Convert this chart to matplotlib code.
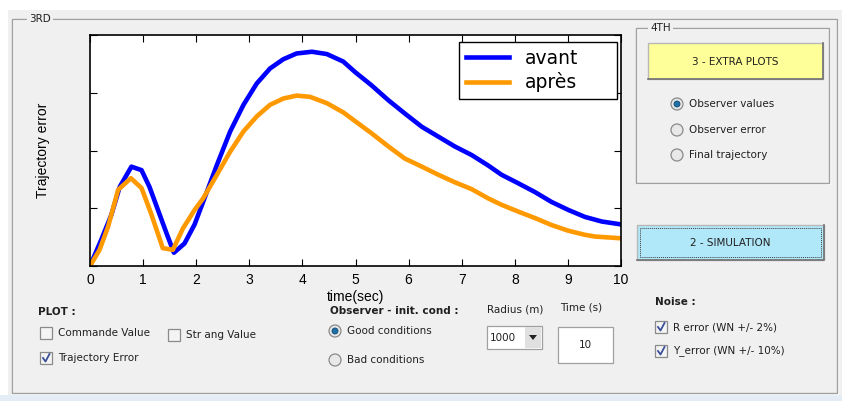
import matplotlib
matplotlib.use('Agg')
import matplotlib.pyplot as plt
from matplotlib.patches import Rectangle, Circle, Polygon

# values
t_avant = [0, 0.21, 0.40, 0.56, 0.78, 0.97, 1.12, 1.28, 1.44, 1.58, 1.78, 1.97, 2.13,
           2.39, 2.64, 2.89, 3.14, 3.39, 3.64, 3.89, 4.18, 4.46, 4.77, 4.99, 5.30, 5.62,
           5.93, 6.25, 6.56, 6.87, 7.19, 7.50, 7.75, 8.07, 8.38, 8.69, 9.01, 9.32, 9.64, 10]
avant = [0, 0.45, 0.88, 1.37, 1.72, 1.66, 1.37, 0.97, 0.57, 0.23, 0.39, 0.72, 1.11,
         1.75, 2.33, 2.79, 3.16, 3.42, 3.58, 3.68, 3.71, 3.67, 3.54, 3.36, 3.13, 2.87,
         2.64, 2.41, 2.24, 2.07, 1.92, 1.74, 1.58, 1.43, 1.28, 1.11, 0.97, 0.85, 0.77, 0.72]
t_apres = [0, 0.18, 0.34, 0.53, 0.77, 0.97, 1.15, 1.37, 1.56, 1.75, 1.97, 2.13, 2.39,
           2.64, 2.89, 3.14, 3.39, 3.64, 3.89, 4.14, 4.46, 4.77, 4.99, 5.30, 5.62, 5.93,
           6.25, 6.56, 6.87, 7.19, 7.50, 7.75, 8.07, 8.38, 8.69, 9.01, 9.32, 9.51, 10]
apres = [0, 0.28, 0.68, 1.32, 1.52, 1.35, 0.91, 0.31, 0.28, 0.65, 0.97, 1.17, 1.58,
         1.98, 2.33, 2.59, 2.79, 2.90, 2.95, 2.93, 2.82, 2.66, 2.51, 2.30, 2.07, 1.86,
         1.72, 1.58, 1.45, 1.33, 1.17, 1.06, 0.94, 0.83, 0.71, 0.61, 0.54, 0.51, 0.48]
xticks = list(range(0, 11))
series_names = ['avant', 'après']

W, H = 842, 401
GUI = 'DejaVu Sans'
fig = plt.figure(figsize=(W / 100, H / 100), dpi=100, facecolor='#f0f0f0')

# background layer in pixel coordinates for the gui widgets
bg = fig.add_axes([0, 0, 1, 1], zorder=0)
bg.set_xlim(0, W)
bg.set_ylim(H, 0)
bg.axis('off')


def etched_box(x0, y0, x1, y1):
    bg.add_patch(Rectangle((x0 + 1, y0 + 1), x1 - x0, y1 - y0, fill=False, ec='white', lw=1))
    bg.add_patch(Rectangle((x0, y0), x1 - x0, y1 - y0, fill=False, ec='#a0a0a0', lw=1))


def button(x0, y0, x1, y1, color, label, dotted=False):
    bg.add_patch(Rectangle((x0, y0), x1 - x0, y1 - y0, fc=color, ec='#b8b8b8', lw=1))
    bg.plot([x0, x1, x1], [y1, y1, y0], color='#707070', lw=1.2)
    if dotted:
        bg.add_patch(Rectangle((x0 + 3, y0 + 3), x1 - x0 - 6, y1 - y0 - 6, fill=False,
                               ec='#404040', lw=0.7, ls=(0, (1, 1))))
    bg.text((x0 + x1) / 2, (y0 + y1) / 2 + 1, label, ha='center', va='center',
            fontsize=7.5, family=GUI, color='#202020')


def checkbox(x, y, label, checked=False):
    bg.add_patch(Rectangle((x, y - 6), 12, 12, fc='#f4f4f4', ec='#8a8a8a', lw=0.9))
    if checked:
        bg.plot([x + 3, x + 5.5, x + 9.5], [y, y + 3.5, y - 4], color='#3a4f9a', lw=1.3)
    bg.text(x + 18, y, label, ha='left', va='center', fontsize=7.5, family=GUI, color='#202020')


def radio(x, y, label, on=False):
    bg.add_patch(Circle((x, y), 6, fc='#e8e8e8', ec='#8a8a8a', lw=0.9))
    if on:
        bg.add_patch(Circle((x, y), 3, fc='#1f6fa8', ec='#0d4a75', lw=0.6))
    bg.text(x + 12, y, label, ha='left', va='center', fontsize=7.5, family=GUI, color='#202020')


# window borders
bg.add_patch(Rectangle((0, 0), W, 10, fc='white', ec='none'))
bg.add_patch(Rectangle((0, 0), 8, H, fc='white', ec='none'))
bg.add_patch(Rectangle((0, 395), W, 6, fc='#e4edf5', ec='none'))
etched_box(12, 19, 837, 393)
bg.text(29, 19, '3RD', ha='left', va='center', fontsize=7.5, family=GUI, color='#202020',
        bbox=dict(fc='#f0f0f0', ec='none', pad=1.5))

# 4TH panel
etched_box(636, 28, 829, 183)
bg.text(650, 28, '4TH', ha='left', va='center', fontsize=7.5, family=GUI, color='#202020',
        bbox=dict(fc='#f0f0f0', ec='none', pad=1.5))
button(648, 43, 823, 79, '#ffff99', '3 - EXTRA PLOTS')
radio(677, 104, 'Observer values', on=True)
radio(677, 130, 'Observer error')
radio(677, 155, 'Final trajectory')
button(637, 225, 824, 260, '#b0e8fa', '2 - SIMULATION', dotted=True)

# bottom controls
bg.text(38, 312, 'PLOT :', ha='left', va='center', fontsize=7.5, family=GUI,
        weight='bold', color='#202020')
checkbox(40, 333, 'Commande Value')
checkbox(168, 335, 'Str ang Value')
checkbox(40, 358, 'Trajectory Error', checked=True)

bg.text(330, 311, 'Observer - init. cond :', ha='left', va='center', fontsize=7.5,
        family=GUI, weight='bold', color='#202020')
radio(335, 331, 'Good conditions', on=True)
radio(335, 360, 'Bad conditions')

bg.text(487, 310, 'Radius (m)', ha='left', va='center', fontsize=7.5, family=GUI, color='#202020')
bg.add_patch(Rectangle((487, 326), 55, 23, fc='white', ec='#a0a0a0', lw=0.9))
bg.add_patch(Rectangle((525, 327), 16, 21, fc='#e0e0e0', ec='none'))
bg.add_patch(Polygon([[529, 335], [537, 335], [533, 340]], closed=True, fc='#202020', ec='none'))
bg.text(490, 338, '1000', ha='left', va='center', fontsize=7.5, family=GUI, color='#202020')

bg.text(560, 308, 'Time (s)', ha='left', va='center', fontsize=7.5, family=GUI, color='#202020')
bg.add_patch(Rectangle((558, 327), 55, 36, fc='white', ec='#a0a0a0', lw=0.9))
bg.text(585, 345, '10', ha='center', va='center', fontsize=7.5, family=GUI, color='#202020')

bg.text(655, 302, 'Noise :', ha='left', va='center', fontsize=7.5, family=GUI,
        weight='bold', color='#202020')
checkbox(655, 327, 'R error (WN +/- 2%)', checked=True)
checkbox(655, 351, 'Y_error (WN +/- 10%)', checked=True)

# the plot itself
ax = fig.add_axes([90 / W, 1 - 266 / H, 531 / W, 231 / H], zorder=1)
ax.set_facecolor('white')
ax.plot(t_avant, avant, color='#0000ff', lw=3.3, label=series_names[0])
ax.plot(t_apres, apres, color='#ff9900', lw=3.3, label=series_names[1])
ax.set_xlim(0, 10)
ax.set_ylim(0, 4)
ax.set_xticks(xticks)
ax.set_xticklabels([str(v) for v in xticks], family='Liberation Sans', fontsize=10)
ax.set_yticks([0, 1, 2, 3, 4])
ax.set_yticklabels([])
ax.tick_params(direction='in', top=True, right=True, length=5, width=0.8, pad=5)
for s in ax.spines.values():
    s.set_linewidth(1.2)
ax.set_xlabel('time(sec)', family='Liberation Sans', fontsize=10, labelpad=2)
ax.set_ylabel('Trajectory error', family='Liberation Sans', fontsize=10, labelpad=24)
leg = ax.legend(loc='upper left', bbox_to_anchor=(369 / 531, 0, 158 / 531, 224 / 231),
                mode='expand', fontsize=13.5, frameon=True, fancybox=False,
                edgecolor='black', framealpha=1, handlelength=2.3, handletextpad=0.85,
                borderpad=0.35, labelspacing=0.25, borderaxespad=0)
leg.get_frame().set_linewidth(1)

fig.savefig('out.png', dpi=100, facecolor=fig.get_facecolor())
